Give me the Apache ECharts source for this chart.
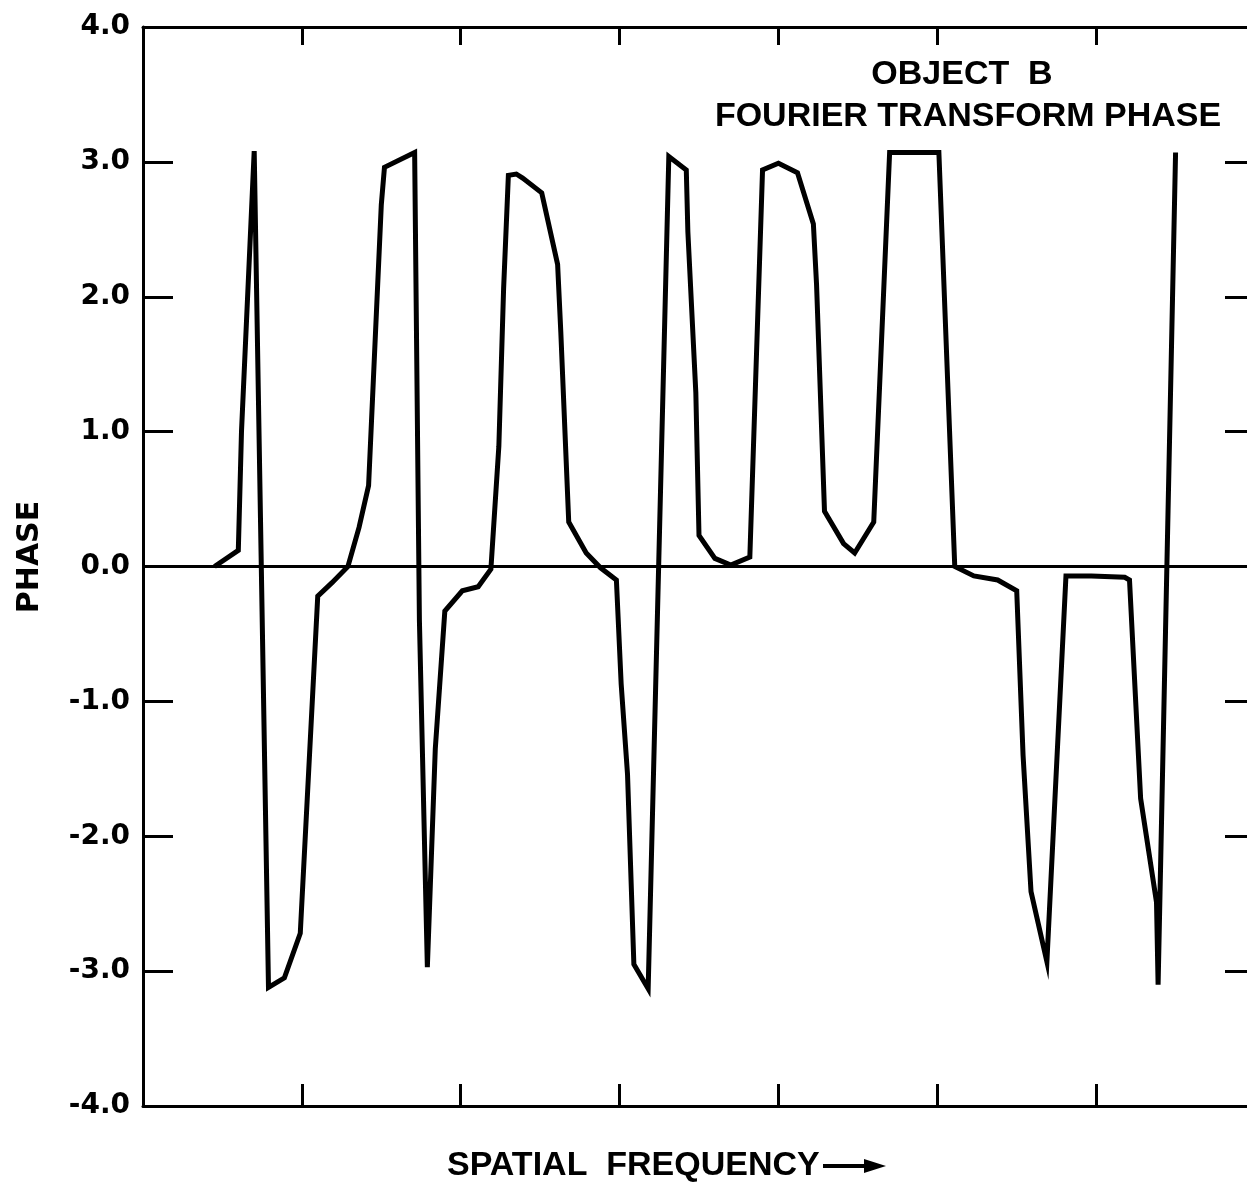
<!DOCTYPE html>
<html>
<head>
<meta charset="utf-8">
<script src="https://cdn.jsdelivr.net/npm/echarts@6/dist/echarts.min.js"></script>
<style>
  html, body { margin: 0; padding: 0; background: #fff; overflow: hidden; }
  /* plot runs past the right edge of the window, as in the scan */
  #box { width: 1257px; height: 1186px; }
</style>
</head>
<body>
<div id="box"></div>
<script>
// spatial frequency (in tick units) of each plotted vertex
var freq = [0.45, 0.60, 0.62, 0.70, 0.79, 0.89, 0.99, 1.10, 1.19, 1.29,
            1.36, 1.42, 1.45, 1.50, 1.52, 1.71, 1.74, 1.79, 1.84, 1.90,
            2.01, 2.11, 2.19, 2.24, 2.27, 2.30, 2.35, 2.39, 2.51, 2.61,
            2.63, 2.68, 2.79, 2.88, 2.98, 3.01, 3.05, 3.09, 3.18, 3.31,
            3.42, 3.43, 3.48, 3.50, 3.60, 3.70, 3.82, 3.90, 4.00, 4.12,
            4.22, 4.24, 4.29, 4.41, 4.48, 4.60, 4.70, 5.01, 5.11, 5.23,
            5.38, 5.50, 5.54, 5.59, 5.69, 5.81, 5.97, 6.18, 6.21, 6.28,
            6.38, 6.39, 6.50];
// phase (radians)
var phase = [0.00, 0.12, 1.00, 3.08, -3.12, -3.05, -2.72, -0.22, -0.12, 0.00,
             0.29, 0.60, 1.38, 2.68, 2.96, 3.07, -0.40, -2.97, -1.35, -0.33,
             -0.18, -0.15, -0.02, 0.89, 2.06, 2.90, 2.91, 2.88, 2.77, 2.24,
             1.74, 0.33, 0.10, -0.01, -0.10, -0.87, -1.54, -2.95, -3.13, 3.04,
             2.94, 2.48, 1.29, 0.23, 0.06, 0.01, 0.07, 2.94, 2.99, 2.92,
             2.54, 2.09, 0.41, 0.17, 0.10, 0.33, 3.07, 3.07, 0.00, -0.07,
             -0.10, -0.18, -1.40, -2.41, -2.93, -0.07, -0.07, -0.08, -0.10, -1.72,
             -2.49, -3.10, 3.07];
var yTicks = ['-4.0', '-3.0', '-2.0', '-1.0', '0.0', '1.0', '2.0', '3.0', '4.0'];

var points = [];
for (var i = 0; i < freq.length; i++) {
    points.push([freq[i], phase[i]]);
}

var myChart = echarts.init(document.getElementById('box'));
var axisLine = { show: true, onZero: false, lineStyle: { color: '#000', width: 3 } };
var tick = function (len) {
    return { show: true, inside: true, length: len, lineStyle: { color: '#000', width: 3 } };
};
var textFont = 'bold 34px "Liberation Sans"';

var option = {
    backgroundColor: '#fff',
    animation: false,
    grid: { left: 143, right: 2, top: 27, bottom: 80 },
    xAxis: [
        {
            type: 'value', position: 'bottom', min: 0, max: 7, interval: 1,
            axisLine: axisLine, axisTick: tick(22),
            axisLabel: { show: false }, splitLine: { show: false }
        },
        {
            type: 'value', position: 'top', min: 0, max: 7, interval: 1,
            axisLine: axisLine, axisTick: tick(18),
            axisLabel: { show: false }, splitLine: { show: false }
        }
    ],
    yAxis: [
        {
            type: 'value', position: 'left', min: -4, max: 4, interval: 1,
            axisLine: axisLine, axisTick: tick(30),
            axisLabel: {
                margin: 13, color: '#000', fontSize: 28, fontWeight: 'bold',
                fontFamily: 'DejaVu Sans',
                formatter: function (v) { return yTicks[Math.round(v) + 4]; }
            },
            splitLine: { show: false }
        },
        {
            type: 'value', position: 'right', min: -4, max: 4, interval: 1,
            axisLine: { show: false, onZero: false }, axisTick: tick(30),
            axisLabel: { show: false }, splitLine: { show: false }
        }
    ],
    graphic: [
        {
            type: 'text', x: 962, y: 75,
            style: {
                text: 'OBJECT  B', fill: '#000', font: textFont,
                textAlign: 'center', textVerticalAlign: 'middle'
            }
        },
        {
            type: 'text', x: 968, y: 117,
            style: {
                text: 'FOURIER TRANSFORM PHASE', fill: '#000', font: textFont,
                textAlign: 'center', textVerticalAlign: 'middle'
            }
        },
        {
            type: 'text', x: 447, y: 1166,
            style: {
                text: 'SPATIAL  FREQUENCY', fill: '#000', font: textFont,
                textAlign: 'left', textVerticalAlign: 'middle'
            }
        },
        {
            type: 'line', shape: { x1: 823, y1: 1166, x2: 868, y2: 1166 },
            style: { stroke: '#000', lineWidth: 4 }
        },
        {
            type: 'polygon', shape: { points: [[864, 1159], [886, 1166], [864, 1173]] },
            style: { fill: '#000' }
        },
        {
            type: 'text', x: 30, y: 557, rotation: Math.PI / 2,
            style: {
                text: 'PHASE', fill: '#000', font: 'bold 30px "DejaVu Sans"',
                textAlign: 'center', textVerticalAlign: 'middle'
            }
        }
    ],
    series: [
        {
            type: 'line',
            xAxisIndex: 0,
            yAxisIndex: 0,
            data: points,
            showSymbol: false,
            symbol: 'none',
            smooth: false,
            lineStyle: { color: '#000', width: 5, join: 'miter' },
            markLine: {
                silent: true,
                symbol: 'none',
                label: { show: false },
                lineStyle: { color: '#000', width: 3, type: 'solid' },
                data: [{ yAxis: 0 }]
            }
        }
    ]
};
myChart.setOption(option);
</script>
</body>
</html>
